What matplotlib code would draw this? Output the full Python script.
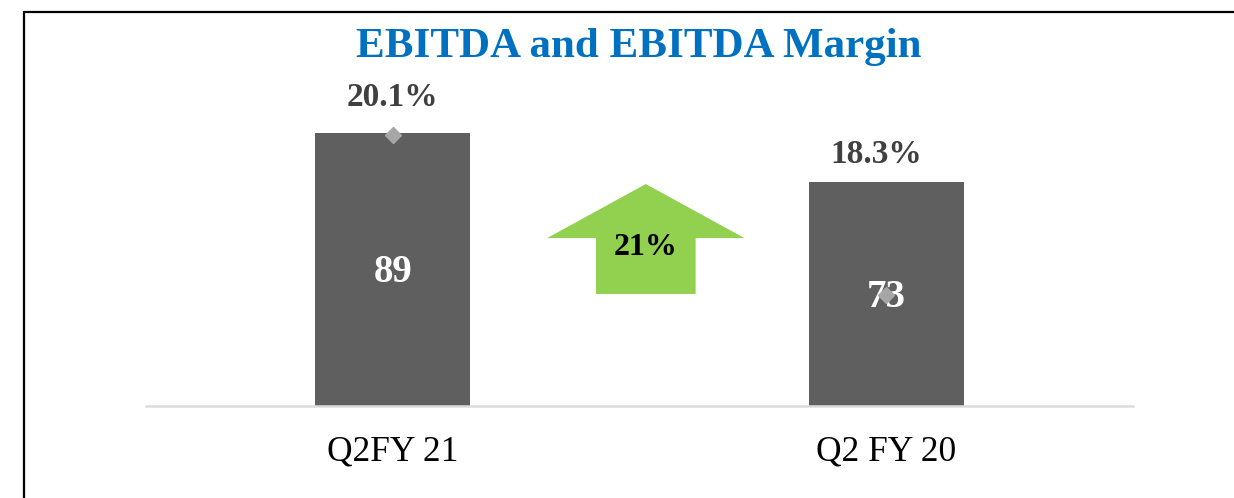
import matplotlib
matplotlib.use("Agg")
import matplotlib.pyplot as plt
from matplotlib.patches import Polygon, Rectangle

# data
periods = ["Q2FY 21", "Q2 FY 20"]
ebitda = [89, 73]
margin = [20.1, 18.3]
growth = 21

plt.rcParams["font.family"] = ["Liberation Serif", "DejaVu Serif"]

fig = plt.figure(figsize=(12.34, 4.98), dpi=100)
ax = fig.add_axes([0.1183, 0.1847, 0.7997, 0.6165])

x = list(range(len(periods)))
ax.bar(x, ebitda, width=0.314, color="#5f5f5f", zorder=2)
ax.set_xlim(-0.5, 1.5)
ax.set_ylim(0, 100)

for xi, v in zip(x, ebitda):
    ax.text(xi, v / 2 - 1, f"{v}", ha="center", va="center", color="white",
            fontsize=28, fontweight="bold", zorder=4)

# margin on secondary axis
ax2 = ax.twinx()
ax2.set_ylim(17.05, 20.5)
ax2.plot(x, margin, linestyle="none", marker="D", markersize=8,
         color="#a6a6a6", zorder=3)
ax2.axis("off")

ax.text(x[0], ebitda[0] + 11.6, f"{margin[0]}%", ha="center", va="center",
        color="#404040", fontsize=24, fontweight="bold")
ax.text(x[1] - 0.02, ebitda[1] + 8.8, f"{margin[1]}%", ha="center", va="center",
        color="#404040", fontsize=24, fontweight="bold")

# growth arrow between the bars
cx = 0.513
hw, sw = 0.2, 0.101
arrow = Polygon([(cx, 72.3), (cx + hw, 54.7), (cx + sw, 54.7), (cx + sw, 36.5),
                 (cx - sw, 36.5), (cx - sw, 54.7), (cx - hw, 54.7)],
                closed=True, facecolor="#92d050", edgecolor="none", zorder=2)
ax.add_patch(arrow)
ax.text(cx, 51.5, f"{growth}%", ha="center", va="center", color="black",
        fontsize=23, fontweight="bold", zorder=4)

for s in ["top", "right", "left"]:
    ax.spines[s].set_visible(False)
ax.spines["bottom"].set_color("#dcdcdc")
ax.spines["bottom"].set_linewidth(1.8)
ax.set_yticks([])
ax.set_xticks(x, periods)
ax.tick_params(axis="x", length=0, labelsize=25.5, pad=21)

fig.text(0.518, 0.906, "EBITDA and EBITDA Margin", ha="center", va="center",
         color="#0070c0", fontsize=31, fontweight="bold")

# frame around the slide box
fig.patches.append(Rectangle((24 / 1234, -0.1), 1.2, 1.1 - 12 / 498,
                             transform=fig.transFigure, fill=False,
                             edgecolor="black", linewidth=1.6))

fig.savefig("out.png", dpi=100)
